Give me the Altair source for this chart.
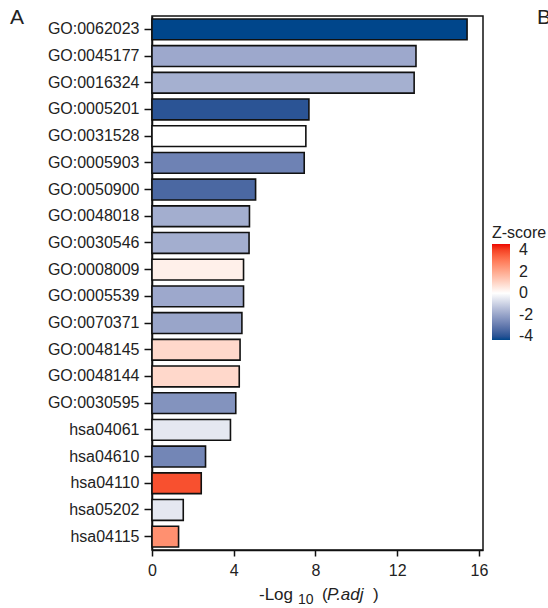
import altair as alt
import pandas as pd

terms = ["GO:0062023", "GO:0045177", "GO:0016324", "GO:0005201", "GO:0031528",
         "GO:0005903", "GO:0050900", "GO:0048018", "GO:0030546", "GO:0008009",
         "GO:0005539", "GO:0070371", "GO:0048145", "GO:0048144", "GO:0030595",
         "hsa04061", "hsa04610", "hsa04110", "hsa05202", "hsa04115"]
neglog_padj = [15.42, 12.92, 12.83, 7.68, 7.53, 7.45, 5.07, 4.77, 4.75, 4.48,
               4.48, 4.40, 4.31, 4.27, 4.10, 3.84, 2.62, 2.41, 1.53, 1.30]
zscore = [-4.33, -1.9, -1.73, -3.95, 0.0, -2.8, -3.45, -1.77, -1.77, 0.36,
          -1.9, -1.98, 0.9, 0.9, -2.4, -0.5, -2.7, 3.8, -0.5, 2.55]
x_ticks = [0, 4, 8, 12, 16]
legend_ticks = [4, 2, 0, -2, -4]

df = pd.DataFrame({"term": terms, "val": neglog_padj, "z": zscore})

FONT = "Liberation Sans"
W, H = 331, 534

bars = alt.Chart(df).mark_bar(stroke="#111111", strokeWidth=1.6).encode(
    y=alt.Y("term:N", sort=terms,
            scale=alt.Scale(paddingInner=0.22, paddingOuter=0.11),
            axis=alt.Axis(title=None, labelFont=FONT, labelFontSize=16,
                          labelColor="#222222", tickSize=8, tickWidth=1.5,
                          tickColor="#111111", domainColor="#111111",
                          domainWidth=1.5, labelPadding=5, grid=False)),
    x=alt.X("val:Q", scale=alt.Scale(domain=[0, 16.2], nice=False, zero=True),
            axis=alt.Axis(title=None, values=x_ticks, labelFont=FONT,
                          labelFontSize=16, labelColor="#222222", tickSize=6,
                          tickWidth=1.5, tickColor="#111111",
                          domainColor="#111111", domainWidth=1.5,
                          labelPadding=6, grid=False, labelFlush=False)),
    color=alt.Color("z:Q",
                    scale=alt.Scale(domain=[-4.33, 0, 4.56],
                                    range=["#00468B", "#FFFFFF", "#ED0000"],
                                    interpolate="lab"),
                    legend=alt.Legend(title="Z-score", orient="none",
                                      legendX=340, legendY=209,
                                      values=legend_ticks,
                                      labelExpr="'' + datum.value",
                                      gradientLength=96, gradientThickness=18,
                                      titleFont=FONT, titleFontSize=16,
                                      titleFontWeight="normal",
                                      titleColor="#222222", titlePadding=3,
                                      labelFont=FONT, labelFontSize=16,
                                      labelColor="#222222", labelOffset=9,
                                      gradientStrokeWidth=0)),
)

one = pd.DataFrame({"k": [0]})

def txt(s, x, y, size=17, style="normal", align="left"):
    return alt.Chart(one).mark_text(
        text=s, font=FONT, fontSize=size, fontStyle=style, color="#222222",
        align=align, baseline="alphabetic"
    ).encode(x=alt.value(x), y=alt.value(y))

title_parts = (txt("-Log", 107, 584) + txt("10", 146, 588, size=14)
               + txt("(", 170, 584) + txt("P.adj", 175, 584, style="italic")
               + txt(")", 221, 584))
panels = txt("A", -142, 8, size=21) + txt("B", 385, 8, size=21)

chart = alt.layer(bars, title_parts, panels).properties(
    width=W, height=H,
    autosize=alt.AutoSizeParams(type="none"),
    padding={"left": 152, "top": 16, "right": 548 - 152 - W, "bottom": 608 - 16 - H},
    background="white",
).configure_view(stroke="#111111", strokeWidth=1.5)

chart.save("out.html", embed_options={"renderer": "svg", "actions": False})
